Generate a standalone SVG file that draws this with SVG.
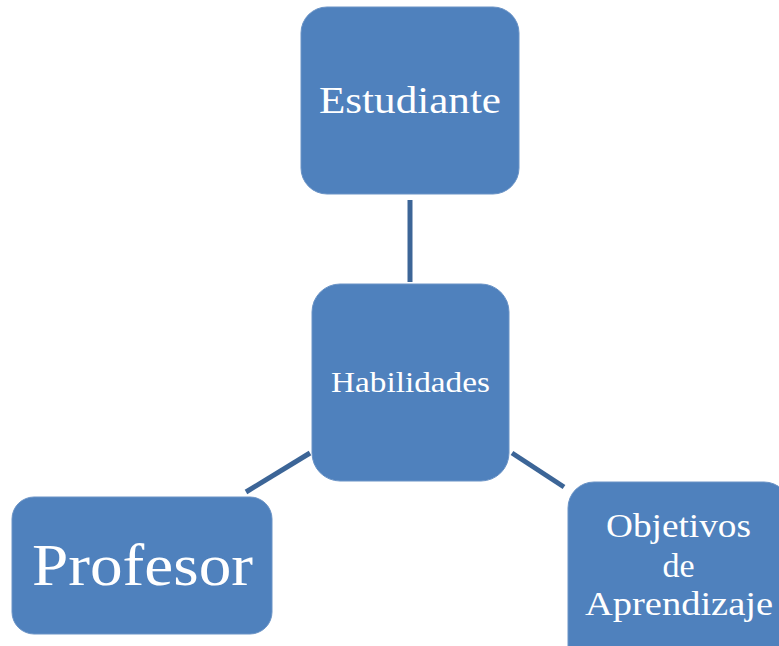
<svg xmlns="http://www.w3.org/2000/svg" width="779" height="646" viewBox="0 0 779 646">
<style>
.box{fill:#4F81BD;stroke:#6A93C6;stroke-width:1}
.lbl{font-family:"Liberation Serif","DejaVu Serif",serif;fill:#FFFFFF;text-anchor:middle}
.conn{stroke:#3C6597;stroke-width:5;stroke-linecap:butt;fill:none}
</style>
<rect width="779" height="646" fill="#FFFFFF"/>
<g id="connectors">
<line class="conn" x1="410" y1="200" x2="410" y2="282"/>
<line class="conn" x1="310" y1="453" x2="246" y2="492"/>
<line class="conn" x1="512" y1="453" x2="564" y2="487"/>
</g>
<g id="estudiante">
<rect class="box" x="301" y="7" width="218" height="187" rx="26"/>
<text class="lbl" x="410" y="113" font-size="38" textLength="182" lengthAdjust="spacingAndGlyphs">Estudiante</text>
</g>
<g id="habilidades">
<rect class="box" x="312" y="284" width="197" height="197" rx="28"/>
<text class="lbl" x="410.5" y="392" font-size="29" textLength="159" lengthAdjust="spacingAndGlyphs">Habilidades</text>
</g>
<g id="profesor">
<rect class="box" x="12" y="497" width="260" height="137" rx="22"/>
<text class="lbl" x="142.5" y="585" font-size="60" textLength="221" lengthAdjust="spacingAndGlyphs">Profesor</text>
</g>
<g id="objetivos">
<rect class="box" x="568" y="482" width="222" height="190" rx="26"/>
<text class="lbl" x="678.5" y="537" font-size="34" textLength="145" lengthAdjust="spacingAndGlyphs">Objetivos</text>
<text class="lbl" x="678.5" y="577" font-size="34">de</text>
<text class="lbl" x="679" y="615" font-size="34" textLength="188" lengthAdjust="spacingAndGlyphs">Aprendizaje</text>
</g>
</svg>
